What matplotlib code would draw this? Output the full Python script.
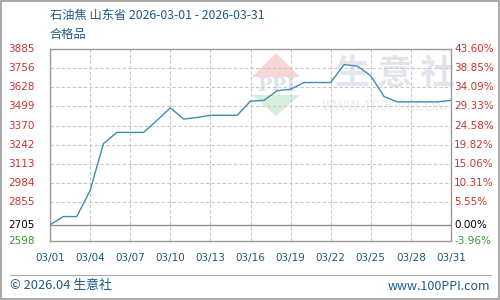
import matplotlib
matplotlib.use("Agg")
import matplotlib.pyplot as plt
from matplotlib.patches import Polygon
import numpy as np

plt.rcParams['font.family'] = ['Noto Sans CJK SC', 'DejaVu Sans']

days = list(range(1, 32))
prices = [2705, 2760, 2760, 2935, 3250, 3325, 3325, 3325, 3405, 3490,
          3415, 3425, 3440, 3440, 3440, 3535, 3540, 3605, 3615, 3660,
          3660, 3660, 3780, 3770, 3705, 3565, 3530, 3530, 3530, 3530, 3540]
x_ticks = [1, 4, 7, 10, 13, 16, 19, 22, 25, 28, 31]
x_labels = ["03/01", "03/04", "03/07", "03/10", "03/13", "03/16",
            "03/19", "03/22", "03/25", "03/28", "03/31"]
y_ticks = [3885, 3756, 3628, 3499, 3370, 3242, 3113, 2984, 2855, 2705, 2598]
pct_labels = ["43.60%", "38.85%", "34.09%", "29.33%", "24.58%", "19.82%",
              "15.06%", "10.31%", "5.55%", "0.00%", "-3.96%"]
title1 = "石油焦 山东省 2026-03-01 - 2026-03-31"
title2 = "合格品"
base = 2705

W, H = 500, 300
def fx(px):
    return px / W
def fy(py):
    return 1 - py / H

fig = plt.figure(figsize=(5, 3), dpi=100)
ax = fig.add_axes([fx(50), fy(240.7), 401/W, 191.7/H])
ax.set_xlim(1, 31)
ax.set_ylim(2598, 3885)

# watermark (figure coordinates, drawn inside the axes below grid)
tf = fig.transFigure
ax.add_patch(Polygon([[fx(252), fy(77)], [fx(276), fy(53)], [fx(300), fy(77)]], closed=True,
                     transform=tf, facecolor='#f6d6d2', edgecolor='none', zorder=0.5))
ax.add_patch(Polygon([[fx(252), fy(95)], [fx(300), fy(95)], [fx(276), fy(116)]], closed=True,
                     transform=tf, facecolor='#d8eedb', edgecolor='none', zorder=0.5))
ax.text(fx(276), fy(86), "PPI", transform=tf, fontsize=14, color='#dde3ee', ha='center',
        va='center', fontweight='bold', family=['DejaVu Serif'], zorder=0.6)
ax.text(fx(395), fy(73), "生 意 社", transform=tf, fontsize=25, color='#e2e6ec', ha='center',
        va='center', fontweight='bold', zorder=0.6)
ax.text(fx(385), fy(107), "WWW.100PPI.COM", transform=tf, fontsize=10.5, color='#eceef1',
        ha='center', va='center', zorder=0.6)

grid_c = '#c8c8c8'
for t in x_ticks[1:-1]:
    ax.axvline(t, color=grid_c, lw=0.8, ls=(0, (3, 2)), zorder=1)
for v in y_ticks:
    if v in (3885, 2598):
        continue
    if v == base:
        ax.axhline(v, color='#909090', lw=1.0, zorder=1)
    else:
        ax.axhline(v, color=grid_c, lw=0.8, ls=(0, (3, 2)), zorder=1)

ax.plot(days, prices, color='#3d8db5', lw=1.0, zorder=3)

for s in ax.spines.values():
    s.set_color('#999999')
    s.set_linewidth(1.0)

ax.set_xticks(x_ticks)
ax.set_xticklabels(x_labels, fontsize=7.5, color='#1e5a7a', family=['DejaVu Sans'])
ax.tick_params(axis='x', length=0, pad=9)
ax.set_yticks([])

red = '#cc3333'
green = '#339933'
for v, p in zip(y_ticks, pct_labels):
    c = red if v > base else ('#000000' if v == base else green)
    ax.text(-0.105, v, str(v), transform=ax.get_yaxis_transform(), fontsize=7.5, color=c,
            ha='left', va='center', family=['DejaVu Sans'])
    ax.text(1.008, v, p, transform=ax.get_yaxis_transform(), fontsize=7.5, color=c,
            ha='left', va='center', family=['DejaVu Sans'])

fig.text(fx(50), fy(15), title1, fontsize=8.8, color='#1e5a8a', ha='left', va='center')
fig.text(fx(50), fy(34), title2, fontsize=8.8, color='#1e5a8a', ha='left', va='center')

fig.add_artist(plt.Line2D([fx(10), fx(491)], [fy(275), fy(275)], color='#aaaaaa', lw=0.8))
fig.text(fx(10), fy(286), "© 2026.04 生意社", fontsize=9.3, color='#1e5a8a', ha='left', va='center')
fig.text(fx(490), fy(286), "www.100PPI.com", fontsize=9, color='#1e5a8a', ha='right', va='center')

fig.add_artist(plt.Rectangle((0.001, 0.002), 0.997, 0.995, fill=False, edgecolor='#999999', lw=1.2,
                             transform=fig.transFigure))

fig.savefig("out.png", dpi=100)
